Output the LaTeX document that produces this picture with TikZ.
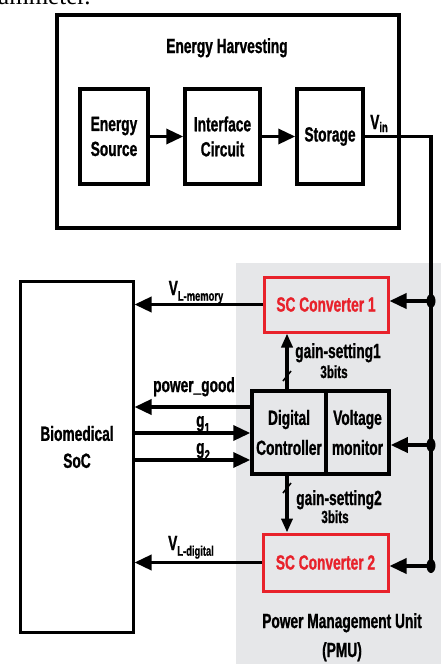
\documentclass[tikz,border=0pt]{standalone}
\usepackage{fontspec}
\newfontfamily\figfont{Liberation Sans}[FakeStretch=0.67, BoldFeatures={FakeBold=1}]
\newfontfamily\capfont{Liberation Serif}
\usetikzlibrary{arrows.meta}
\definecolor{pmugray}{HTML}{E6E7E9}
\definecolor{scred}{HTML}{E8222B}
\newcommand\lowsub[2][-0.28em]{\raisebox{#1}{\fontsize{14}{14}\selectfont #2}}
\begin{document}
\begin{tikzpicture}[x=1pt,y=-1pt,
  every node/.style={font=\figfont\bfseries\fontsize{20.5}{25}\selectfont, inner sep=0pt, align=center},
  blk/.style={draw, line width=3.5pt},
  conv/.style={draw=scred, line width=3pt, text=scred},
  wire/.style={line width=3.5pt},
  harr/.style={wire, -{Triangle[length=17pt,width=15pt]}},
  varr/.style={wire, -{Triangle[length=14pt,width=11pt]}},
  lbl/.style={anchor=base},
  small/.style={font=\figfont\bfseries\fontsize{17.5}{20}\selectfont},
  slash/.style={line width=1.6pt}
]
\useasboundingbox (0,0) rectangle (441,664);
\clip (0,0) rectangle (441,664);
\fill[white] (0,0) rectangle (441,664);
% cropped caption remnant
\node[font=\capfont\fontsize{25}{25}\selectfont, anchor=base west] (cap) at (-2,4) {ammeter.};
% PMU background
\fill[pmugray] (236,263) rectangle (441,664);

% Energy harvesting
\node[blk, line width=4pt, minimum width=342, minimum height=213] (eh) at (228,121.5) {};
\node[lbl] (ehT) at (227,53) {Energy Harvesting};
\node[blk, minimum width=68, minimum height=95] (es) at (114,136.5) {Energy\\Source};
\node[blk, minimum width=75, minimum height=95] (ic) at (222.5,136.5) {Interface\\Circuit};
\node[blk, minimum width=66, minimum height=95] (st) at (330,136.5) {Storage};
\draw[harr] (es) -- (ic);
\draw[harr] (ic) -- (st);
\node[lbl] (vin) at (379,129) {V\lowsub[-0.15em]{in}};

% bus
\coordinate (vtop) at (431,136.5);
\coordinate (d1) at (431,301);
\coordinate (d2) at (431,445);
\coordinate (d3) at (431,566);
\draw[wire] (st.east) -- (vtop) -- (d3);

% SoC
\node[draw, line width=3pt, minimum width=113, minimum height=351] (soc) at (76.5,456.5) {};
\node[font=\figfont\bfseries\fontsize{20.5}{27}\selectfont] (socT) at (77,447) {Biomedical\\SoC};

% converters
\node[conv, minimum width=124, minimum height=55] (sc1) at (326,304.5) {SC Converter 1};
\node[conv, minimum width=125, minimum height=57] (sc2) at (325.5,562.5) {SC Converter 2};

% digital controller / voltage monitor
\node[blk, minimum width=74, minimum height=83, font=\figfont\bfseries\fontsize{20.5}{30}\selectfont] (dc) at (289,432.5) {Digital\\Controller};
\node[blk, minimum width=63, minimum height=83, font=\figfont\bfseries\fontsize{20.5}{30}\selectfont] (vm) at (357.5,432.5) {Voltage\\monitor};

% inputs from bus
\draw[harr] (d1) -- (d1 -| sc1.east);
\draw[harr] (d2) -- (d2 -| vm.east);
\draw[harr] (d3) -- (d3 -| sc2.east);
\fill (d1) ellipse [x radius=4.5pt, y radius=7pt];
\fill (d2) ellipse [x radius=4.5pt, y radius=7pt];
\fill (d3) ellipse [x radius=4.5pt, y radius=7pt];

% outputs to SoC
\draw[harr] (sc1.west) -- (sc1.west -| soc.east);
\node[lbl] (vlm) at (196,295) {V\lowsub{L-memory}};
\draw[harr] (sc2.west) -- (sc2.west -| soc.east);
\node[lbl] (vld) at (191,550) {V\lowsub{L-digital}};

\coordinate (pgY) at (0,407);
\coordinate (g1Y) at (0,433);
\coordinate (g2Y) at (0,460);
\draw[harr] (pgY -| dc.west) -- (pgY -| soc.east);
\draw[harr] (g1Y -| soc.east) -- (g1Y -| dc.west);
\draw[harr] (g2Y -| soc.east) -- (g2Y -| dc.west);
\node[lbl] (pgl) at (194,392) {power\_good};
\node[lbl] (g1l) at (203,427) {g\lowsub{1}};
\node[lbl] (g2l) at (203,454) {g\lowsub{2}};

% gain settings
\coordinate (gx) at (287,0);
\draw[varr] (gx |- dc.north) -- (gx |- sc1.south);
\draw[slash] (283,381) -- (291,371);
\node[lbl] (gs1) at (338,358) {gain-setting1};
\node[lbl, small] (b1) at (334,378) {3bits};
\draw[varr] (gx |- dc.south) -- (gx |- sc2.north);
\draw[slash] (283,493) -- (291,483);
\node[lbl] (gs2) at (339,505) {gain-setting2};
\node[lbl, small] (b2) at (335,523) {3bits};

% PMU label
\node[lbl] (pmu1) at (342,628) {Power Management Unit};
\node[lbl] (pmu2) at (342,657) {(PMU)};
\end{tikzpicture}
\end{document}
